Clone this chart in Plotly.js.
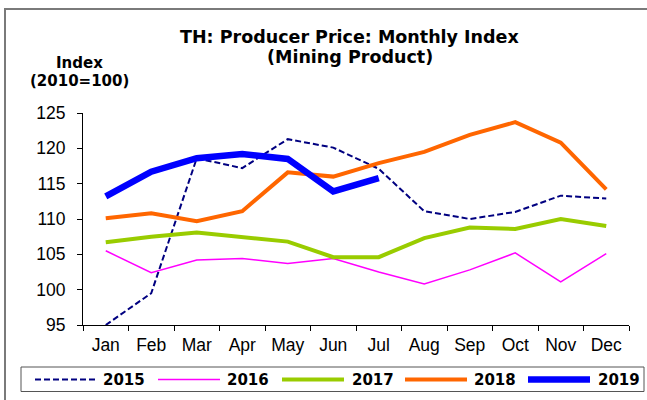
<!DOCTYPE html>
<html>
<head>
<meta charset="utf-8">
<script src="https://cdn.plot.ly/plotly-3.0.1.min.js"></script>
<style>html,body{margin:0;padding:0;background:#fff;}#chart{width:647px;height:400px;}</style>
</head>
<body>
<div id="chart"></div>
<script>
const months = ["Jan","Feb","Mar","Apr","May","Jun","Jul","Aug","Sep","Oct","Nov","Dec"];
const y2015 = [95.0, 99.5, 118.6, 117.2, 121.3, 120.1, 117.1, 111.1, 110.0, 111.0, 113.3, 112.9];
const y2016 = [105.5, 102.4, 104.2, 104.4, 103.7, 104.4, 102.5, 100.8, 102.8, 105.2, 101.1, 105.1];
const y2017 = [106.7, 107.5, 108.1, 107.5, 106.8, 104.6, 104.6, 107.3, 108.8, 108.6, 110.0, 109.0];
const y2018 = [110.1, 110.8, 109.7, 111.1, 116.6, 116.0, 117.9, 119.5, 121.9, 123.7, 120.8, 114.2];
const y2019 = [113.2, 116.7, 118.6, 119.2, 118.5, 113.9, 115.8];
const seriesNames = ["2015","2016","2017","2018","2019"];
const yTicks = [95, 100, 105, 110, 115, 120, 125];

const tickFont = "Liberation Sans, Arial, sans-serif";
const boldFont = "DejaVu Sans, Liberation Sans, sans-serif";
const lineStyles = [
  {color: "#000080", width: 2, dash: "6px,3px"},
  {color: "#FF00FF", width: 1.5},
  {color: "#99CC00", width: 4},
  {color: "#FF6600", width: 4},
  {color: "#0000FF", width: 6.5}
];
const seriesData = [y2015, y2016, y2017, y2018, y2019];
const traces = seriesData.map((ys, i) => ({
  x: months.slice(0, ys.length), y: ys, name: seriesNames[i], mode: "lines",
  line: Object.assign({shape: "linear"}, lineStyles[i]), showlegend: false
}));

const L = 83, R = 18, T = 113, B = 75;
const pw = 647 - L - R, ph = 400 - T - B;
const px = v => (v - L) / pw;
const py = v => (400 - B - v) / ph;

// manual legend layout (pixels)
const legLineX0 = [35, 158, 282, 405, 528];
const legLineLen = 62;
const legTextX = [102, 226, 351, 473, 597];
const legY = 379.5;

const shapes = [
  {type: "rect", xref: "paper", yref: "paper", x0: px(5), x1: px(680), y0: py(430), y1: py(9),
   line: {color: "#7a7a7a", width: 2}, fillcolor: "rgba(0,0,0,0)", layer: "below"},
  {type: "rect", xref: "paper", yref: "paper", x0: px(21), x1: px(644), y0: py(391.5), y1: py(367),
   line: {color: "#555", width: 1}, fillcolor: "rgba(0,0,0,0)", layer: "below"}
];
const annotations = [
  {text: "<b>TH: Producer Price: Monthly Index</b>", xref: "paper", yref: "paper", x: px(349), y: py(37),
   xanchor: "center", yanchor: "middle", showarrow: false, font: {family: boldFont, size: 17.5, color: "#000"}},
  {text: "<b>(Mining Product)</b>", xref: "paper", yref: "paper", x: px(350), y: py(57),
   xanchor: "center", yanchor: "middle", showarrow: false, font: {family: boldFont, size: 17.5, color: "#000"}},
  {text: "<b>Index</b>", xref: "paper", yref: "paper", x: px(79.5), y: py(63),
   xanchor: "center", yanchor: "middle", showarrow: false, font: {family: boldFont, size: 15, color: "#000"}},
  {text: "<b>(2010=100)</b>", xref: "paper", yref: "paper", x: px(79.5), y: py(81.5),
   xanchor: "center", yanchor: "middle", showarrow: false, font: {family: boldFont, size: 15, color: "#000"}}
];
seriesNames.forEach((nm, i) => {
  shapes.push({type: "line", xref: "paper", yref: "paper",
    x0: px(legLineX0[i]), x1: px(legLineX0[i] + legLineLen), y0: py(legY), y1: py(legY),
    line: lineStyles[i]});
  annotations.push({text: "<b>" + nm + "</b>", xref: "paper", yref: "paper",
    x: px(legTextX[i]), y: py(legY), xanchor: "left", yanchor: "middle", showarrow: false,
    borderpad: 0, font: {family: boldFont, size: 15, color: "#000"}});
});

const layout = {
  width: 647, height: 400,
  margin: {l: L, r: R, t: T, b: B, pad: 0},
  paper_bgcolor: "#ffffff", plot_bgcolor: "#ffffff",
  font: {family: tickFont, size: 14, color: "#000"},
  showlegend: false,
  xaxis: {
    type: "category", categoryorder: "array", categoryarray: months,
    range: [-0.5, 11.5], showgrid: false, zeroline: false,
    showline: true, linecolor: "#000", linewidth: 1,
    ticks: "outside", ticklen: 5, tickcolor: "#000", tickson: "boundaries",
    ticklabelstandoff: 4,
    tickfont: {family: tickFont, size: 17.5, color: "#000"}, fixedrange: true
  },
  yaxis: {
    range: [95, 125], tickvals: yTicks, ticktext: yTicks.map(String),
    showgrid: false, zeroline: false,
    showline: true, linecolor: "#000", linewidth: 1,
    ticks: "outside", ticklen: 5, tickcolor: "#000", ticklabelstandoff: 8,
    tickfont: {family: tickFont, size: 17.5, color: "#000"}, fixedrange: true
  },
  annotations: annotations,
  shapes: shapes
};

Plotly.newPlot("chart", traces, layout, {staticPlot: true, displayModeBar: false});
</script>
</body>
</html>
